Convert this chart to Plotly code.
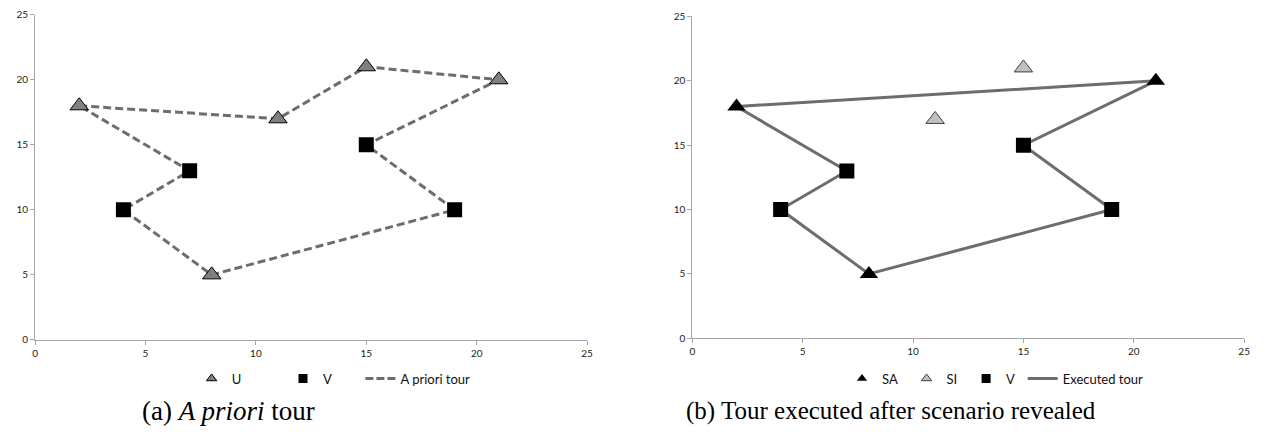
import plotly.graph_objects as go

# ---- data (panel a: a priori tour) ----
u_x = [2, 11, 15, 21, 8]
u_y = [18, 17, 21, 20, 5]
v_x = [7, 4, 15, 19]
v_y = [13, 10, 15, 10]
apriori_x = [2, 11, 15, 21, 15, 19, 8, 4, 7, 2]
apriori_y = [18, 17, 21, 20, 15, 10, 5, 10, 13, 18]

# ---- data (panel b: executed tour) ----
sa_x = [2, 21, 8]
sa_y = [18, 20, 5]
si_x = [15, 11]
si_y = [21, 17]
exec_x = [2, 21, 15, 19, 8, 4, 7, 2]
exec_y = [18, 20, 15, 10, 5, 10, 13, 18]

axis_ticks = [0, 5, 10, 15, 20, 25]
captions = ["(a) <i>A priori</i> tour", "(b) Tour executed after scenario revealed"]

W, H = 1268, 438
LINE_COL = "#6d6d6d"
AX_COL = "#a6a6a6"
TICK_FONT = dict(family="Lato, Liberation Sans, sans-serif", size=10, color="#222222")
LEG_FONT = dict(family="Lato, Liberation Sans, sans-serif", size=13, color="#111111")
SERIF = "Liberation Serif, DejaVu Serif, serif"
TRI = 16

fig = go.Figure()

# ----- panel a -----
fig.add_trace(go.Scatter(x=apriori_x, y=apriori_y, mode="lines", xaxis="x", yaxis="y",
                         line=dict(color=LINE_COL, width=3, dash="8px,4px"), showlegend=False))
fig.add_trace(go.Scatter(x=u_x, y=u_y, mode="markers", xaxis="x", yaxis="y",
                         marker=dict(symbol="triangle-up", size=TRI, color="#808080",
                                     line=dict(color="#000000", width=1)), showlegend=False))
fig.add_trace(go.Scatter(x=v_x, y=v_y, mode="markers", xaxis="x", yaxis="y",
                         marker=dict(symbol="square", size=15, color="#000000"), showlegend=False))
# legend entries (a)
fig.add_trace(go.Scatter(x=[None], y=[None], mode="markers", name="U", legend="legend",
                         xaxis="x", yaxis="y",
                         marker=dict(symbol="triangle-up", size=9, color="#808080",
                                     line=dict(color="#000000", width=1))))
fig.add_trace(go.Scatter(x=[None], y=[None], mode="markers", name="V", legend="legend2",
                         xaxis="x", yaxis="y",
                         marker=dict(symbol="square", size=9, color="#000000")))
fig.add_trace(go.Scatter(x=[None], y=[None], mode="lines", name="A priori tour", legend="legend3",
                         xaxis="x", yaxis="y",
                         line=dict(color=LINE_COL, width=3, dash="8px,3px")))

# ----- panel b -----
fig.add_trace(go.Scatter(x=exec_x, y=exec_y, mode="lines", xaxis="x2", yaxis="y2",
                         line=dict(color=LINE_COL, width=3), showlegend=False))
fig.add_trace(go.Scatter(x=sa_x, y=sa_y, mode="markers", xaxis="x2", yaxis="y2",
                         marker=dict(symbol="triangle-up", size=TRI, color="#000000"), showlegend=False))
fig.add_trace(go.Scatter(x=si_x, y=si_y, mode="markers", xaxis="x2", yaxis="y2",
                         marker=dict(symbol="triangle-up", size=TRI, color="#c0c0c0",
                                     line=dict(color="#404040", width=1)), showlegend=False))
fig.add_trace(go.Scatter(x=v_x, y=v_y, mode="markers", xaxis="x2", yaxis="y2",
                         marker=dict(symbol="square", size=15, color="#000000"), showlegend=False))
# legend entries (b)
fig.add_trace(go.Scatter(x=[None], y=[None], mode="markers", name="SA", legend="legend4",
                         xaxis="x2", yaxis="y2",
                         marker=dict(symbol="triangle-up", size=9, color="#000000")))
fig.add_trace(go.Scatter(x=[None], y=[None], mode="markers", name="SI", legend="legend5",
                         xaxis="x2", yaxis="y2",
                         marker=dict(symbol="triangle-up", size=9, color="#c0c0c0",
                                     line=dict(color="#404040", width=1))))
fig.add_trace(go.Scatter(x=[None], y=[None], mode="markers", name="V", legend="legend6",
                         xaxis="x2", yaxis="y2",
                         marker=dict(symbol="square", size=9, color="#000000")))
fig.add_trace(go.Scatter(x=[None], y=[None], mode="lines", name="Executed tour", legend="legend7",
                         xaxis="x2", yaxis="y2",
                         line=dict(color=LINE_COL, width=3)))


def ax(domain, anchor):
    return dict(domain=domain, anchor=anchor, range=[0, 25], tickvals=axis_ticks,
                showgrid=False, zeroline=False, showline=True, linecolor=AX_COL, linewidth=1,
                ticks="outside", ticklen=4, tickcolor=AX_COL, tickfont=TICK_FONT,
                fixedrange=True)


def leg(left_px):
    return dict(orientation="h", x=left_px / W, xanchor="left", y=1 - 383 / H,
                yanchor="middle", font=LEG_FONT, bgcolor="rgba(0,0,0,0)", borderwidth=0)


fig.update_layout(
    width=W, height=H, margin=dict(l=0, r=0, t=0, b=0),
    paper_bgcolor="white", plot_bgcolor="white",
    xaxis=ax([32.3 / W, 588.3 / W], "y"),
    yaxis=ax([1 - 343.3 / H, 1 - 9 / H], "x"),
    xaxis2=ax([694.3 / W, 1250 / W], "y2"),
    yaxis2=ax([1 - 341.7 / H, 1 - 10.7 / H], "x2"),
    legend=leg(190), legend2=leg(282), legend3=leg(360),
    legend4=leg(845), legend5=leg(910), legend6=leg(970), legend7=leg(1027),
    annotations=[
        dict(text=captions[0], x=138 / W, y=1 - 416 / H, xref="paper", yref="paper",
             xanchor="left", yanchor="middle", showarrow=False,
             font=dict(family=SERIF, size=27, color="#000000")),
        dict(text=captions[1], x=686 / W, y=1 - 416 / H, xref="paper", yref="paper",
             xanchor="left", yanchor="middle", showarrow=False,
             font=dict(family=SERIF, size=25, color="#000000")),
    ],
)

fig.write_html("out.html")
